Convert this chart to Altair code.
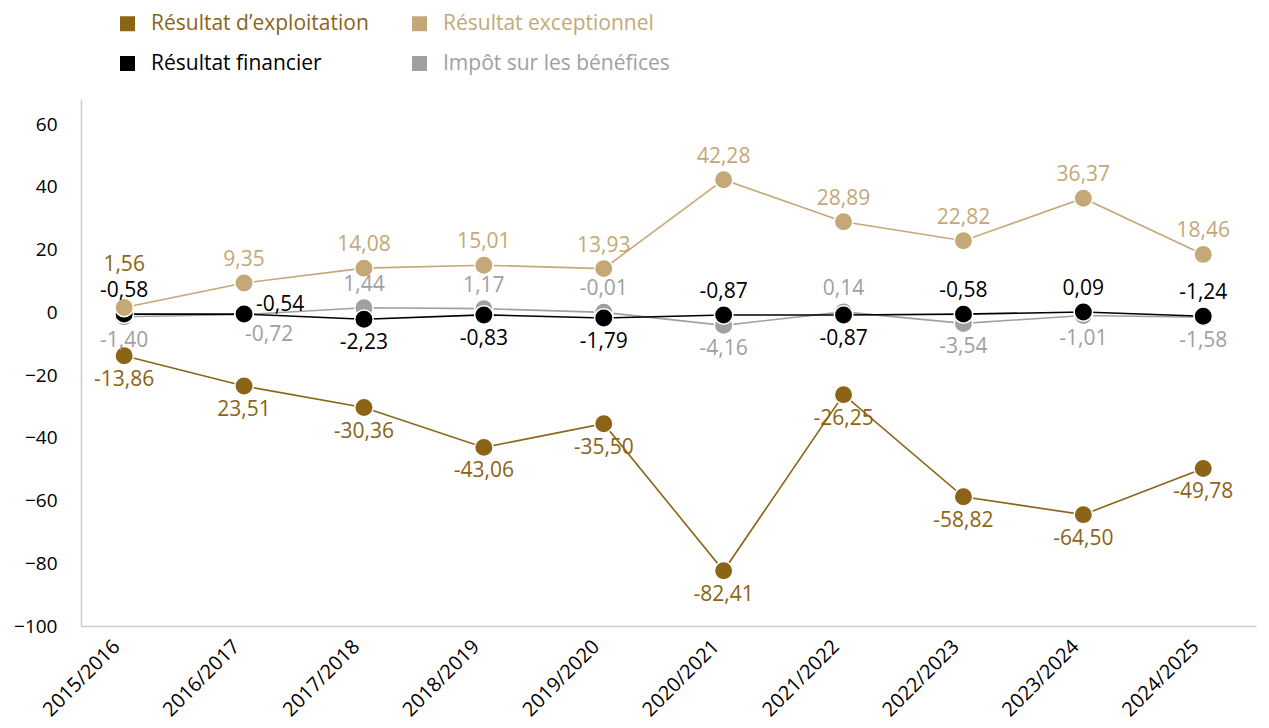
import altair as alt
import pandas as pd

years = ["2015/2016", "2016/2017", "2017/2018", "2018/2019", "2019/2020",
         "2020/2021", "2021/2022", "2022/2023", "2023/2024", "2024/2025"]
series = ["Résultat d’exploitation", "Résultat exceptionnel",
          "Résultat financier", "Impôt sur les bénéfices"]
colors = ["#8B6416", "#C4A878", "#000000", "#A0A0A0"]

exploitation = [-13.86, -23.51, -30.36, -43.06, -35.50, -82.41, -26.25, -58.82, -64.50, -49.78]
exploitation_labels = ["-13,86", "23,51", "-30,36", "-43,06", "-35,50",
                       "-82,41", "-26,25", "-58,82", "-64,50", "-49,78"]
exploitation_pos = ["below"] * 10

exceptionnel = [1.56, 9.35, 14.08, 15.01, 13.93, 42.28, 28.89, 22.82, 36.37, 18.46]
exceptionnel_labels = ["1,56", "9,35", "14,08", "15,01", "13,93",
                       "42,28", "28,89", "22,82", "36,37", "18,46"]
exceptionnel_pos = ["above2"] + ["above"] * 9
exceptionnel_label_series = [series[0]] + [series[1]] * 9

financier = [-0.58, -0.54, -2.23, -0.83, -1.79, -0.87, -0.87, -0.58, 0.09, -1.24]
financier_labels = ["-0,58", "-0,54", "-2,23", "-0,83", "-1,79",
                    "-0,87", "-0,87", "-0,58", "0,09", "-1,24"]
financier_pos = ["above", "right", "below", "below", "below",
                 "above", "below", "above", "above", "above"]

impot = [-1.40, -0.72, 1.44, 1.17, -0.01, -4.16, 0.14, -3.54, -1.01, -1.58]
impot_labels = ["-1,40", "-0,72", "1,44", "1,17", "-0,01",
                "-4,16", "0,14", "-3,54", "-1,01", "-1,58"]
impot_pos = ["below", "belowright", "above", "above", "above",
             "below", "above", "below", "below", "below"]

y_ticks = [-100, -80, -60, -40, -20, 0, 20, 40, 60]

rows = []
# draw order: impôt (back), financier, exceptionnel, exploitation (front)
for name, vals, labs, poss, lser in [
    (series[3], impot, impot_labels, impot_pos, [series[3]] * 10),
    (series[2], financier, financier_labels, financier_pos, [series[2]] * 10),
    (series[1], exceptionnel, exceptionnel_labels, exceptionnel_pos, exceptionnel_label_series),
    (series[0], exploitation, exploitation_labels, exploitation_pos, [series[0]] * 10),
]:
    for yr, v, lab, p, ls in zip(years, vals, labs, poss, lser):
        rows.append({"year": yr, "series": name, "value": v, "label": lab,
                     "pos": p, "lseries": ls})
df = pd.DataFrame(rows)

FONT = "Open Sans"
color_scale = alt.Scale(domain=series, range=colors)

x_enc = alt.X("year:N", sort=years,
              scale=alt.Scale(type="point", padding=0.40, align=0.45),
              axis=alt.Axis(title=None, labelAngle=-45, labelAlign="right",
                            labelBaseline="top", labelFontSize=20, labelFont=FONT,
                            labelColor="#000000", labelPadding=10, labelOffset=-15,
                            ticks=False, domainColor="#cccccc", domainWidth=1.5,
                            grid=False))
y_enc = alt.Y("value:Q",
              scale=alt.Scale(domain=[-100, 68], nice=False, zero=False),
              axis=alt.Axis(title=None, values=y_ticks, labelFontSize=19,
                            labelFont=FONT, labelColor="#000000", ticks=False,
                            labelPadding=24, domainColor="#cccccc",
                            domainWidth=1.5, grid=False))

base = alt.Chart(df)

lines = base.mark_line(strokeWidth=1.6).encode(
    x=x_enc, y=y_enc,
    color=alt.Color("series:N", scale=color_scale,
                    legend=alt.Legend(
                        title=None, orient="none", legendX=36, legendY=-86,
                        columns=2, direction="horizontal",
                        symbolType="square", symbolSize=225, symbolStrokeWidth=0,
                        symbolOpacity=1, labelLimit=0,
                        labelFontSize=21, labelFont=FONT, labelOffset=13,
                        columnPadding=40, rowPadding=18,
                        labelColor={"expr": "scale('color', datum.value)"})),
    detail="series:N",
)

points = base.mark_circle(size=340, opacity=1, stroke="white",
                          strokeWidth=1.5).encode(
    x=x_enc, y=y_enc,
    color=alt.Color("series:N", scale=color_scale, legend=None),
)

pos_styles = {
    "above": dict(dy=-23, align="center"),
    "above2": dict(dy=-42, align="center"),
    "below": dict(dy=24, align="center"),
    "right": dict(dx=12, dy=-9, align="left"),
    "belowright": dict(dx=25, dy=20, align="center"),
}

label_layers = []
for p, st in pos_styles.items():
    label_layers.append(
        base.transform_filter(alt.datum.pos == p).mark_text(
            fontSize=21, font=FONT, baseline="middle", **st
        ).encode(
            x=x_enc, y=y_enc, text="label:N",
            color=alt.Color("lseries:N", scale=color_scale, legend=None),
        )
    )

chart = alt.layer(lines, points, *label_layers).properties(
    width=1175, height=527
).configure_view(stroke=None)

chart.save("out.html", embed_options={"renderer": "svg", "actions": False})
